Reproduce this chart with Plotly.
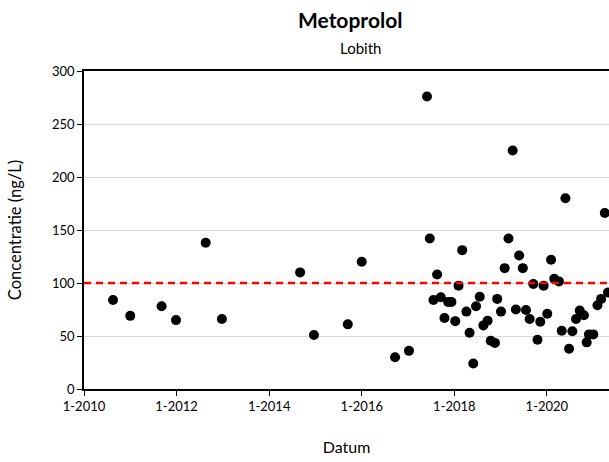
import plotly.graph_objects as go

dates = [
    "2010-08-18", "2011-01-01", "2011-09-05", "2011-12-28", "2012-08-18", "2012-12-24",
    "2014-09-02", "2014-12-20", "2015-09-13", "2016-01-01", "2016-09-20", "2017-01-08",
    "2017-05-30", "2017-06-21", "2017-07-20", "2017-08-18", "2017-09-16", "2017-10-15",
    "2017-11-13", "2017-12-09", "2018-01-08", "2018-02-03", "2018-03-04", "2018-04-06",
    "2018-05-01", "2018-05-30", "2018-06-21", "2018-07-20", "2018-08-18", "2018-09-20",
    "2018-10-15", "2018-11-17", "2018-12-05", "2019-01-04", "2019-02-02", "2019-03-04",
    "2019-04-06", "2019-05-01", "2019-05-27", "2019-06-25", "2019-07-20", "2019-08-18",
    "2019-09-16", "2019-10-19", "2019-11-10", "2019-12-06", "2020-01-04", "2020-02-03",
    "2020-02-28", "2020-04-05", "2020-04-27", "2020-05-26", "2020-06-24", "2020-07-20",
    "2020-08-18", "2020-09-16", "2020-10-19", "2020-11-10", "2020-11-28", "2021-01-01",
    "2021-02-03", "2021-03-04", "2021-04-02", "2021-04-27",
]
values = [
    84, 69, 78, 65, 138, 66,
    110, 51, 61, 120, 30, 36,
    276, 142, 84, 108, 86.5, 67,
    82, 82, 64, 97.5, 131, 73,
    53, 24, 78, 87, 60, 64.5,
    45.5, 43.5, 85, 73, 114, 142,
    225, 75, 126, 114, 74.5, 66,
    99, 46.5, 63.5, 97.5, 71, 122,
    104, 101.5, 55, 180, 38, 54.5,
    66, 74, 69.5, 44, 51.5, 51.5,
    79, 85, 166, 91,
]
norm_value = 100
x_tick_vals = ["2010-01-01", "2012-01-01", "2014-01-01", "2016-01-01", "2018-01-01", "2020-01-01"]
x_tick_text = ["1-2010", "1-2012", "1-2014", "1-2016", "1-2018", "1-2020"]
y_tick_vals = [0, 50, 100, 150, 200, 250, 300]

FONT = "Lato"

fig = go.Figure()
fig.add_trace(go.Scatter(
    x=dates, y=values, mode="markers",
    marker=dict(color="black", size=10),
    showlegend=False,
))
fig.add_trace(go.Scatter(
    x=["2010-01-01", "2021-05-05"], y=[norm_value, norm_value], mode="lines",
    line=dict(color="#ff0000", width=2.5, dash="7px,5px"),
    showlegend=False, hoverinfo="skip",
))

fig.update_layout(
    width=609, height=462,
    margin=dict(l=84, r=0, t=71, b=73),
    paper_bgcolor="white", plot_bgcolor="white",
    font=dict(family=FONT, color="black", size=13),
    xaxis=dict(
        range=["2010-01-01", "2021-05-05"],
        tickvals=x_tick_vals, ticktext=x_tick_text,
        showgrid=False, zeroline=False,
        showline=True, linecolor="black", linewidth=1.5, mirror=True,
        ticks="outside", ticklen=5, tickcolor="black",
        tickfont=dict(family=FONT, size=13),
        title=dict(text="Datum", font=dict(family=FONT, size=16), standoff=28),
    ),
    yaxis=dict(
        range=[0, 300],
        tickvals=y_tick_vals,
        showgrid=True, gridcolor="#d9d9d9", gridwidth=1, zeroline=False,
        showline=True, linecolor="black", linewidth=1.5,
        ticks="outside", ticklen=5, tickcolor="black",
        tickfont=dict(family=FONT, size=13),
        title=dict(text="Concentratie (ng/L)", font=dict(family=FONT, size=16.5), standoff=26),
    ),
    annotations=[
        dict(text="<b>Metoprolol</b>", x=350, y=462 - 20, xref="paper", yref="paper",
             showarrow=False, font=dict(family=FONT, size=21)),
        dict(text="Lobith", x=360, y=462 - 48, xref="paper", yref="paper",
             showarrow=False, font=dict(family=FONT, size=15)),
    ],
)
# convert pixel positions of title annotations to paper coordinates
pw, ph = 609 - 84, 462 - 71 - 73
for a in fig.layout.annotations:
    a.x = (a.x - 84) / pw
    a.y = (a.y - 73) / ph
    a.yanchor = "middle"
    a.xanchor = "center"

fig.write_html(
    "out.html",
    config={"displayModeBar": False},
    post_script="document.body.style.margin='0';document.body.style.overflow='hidden';",
)
